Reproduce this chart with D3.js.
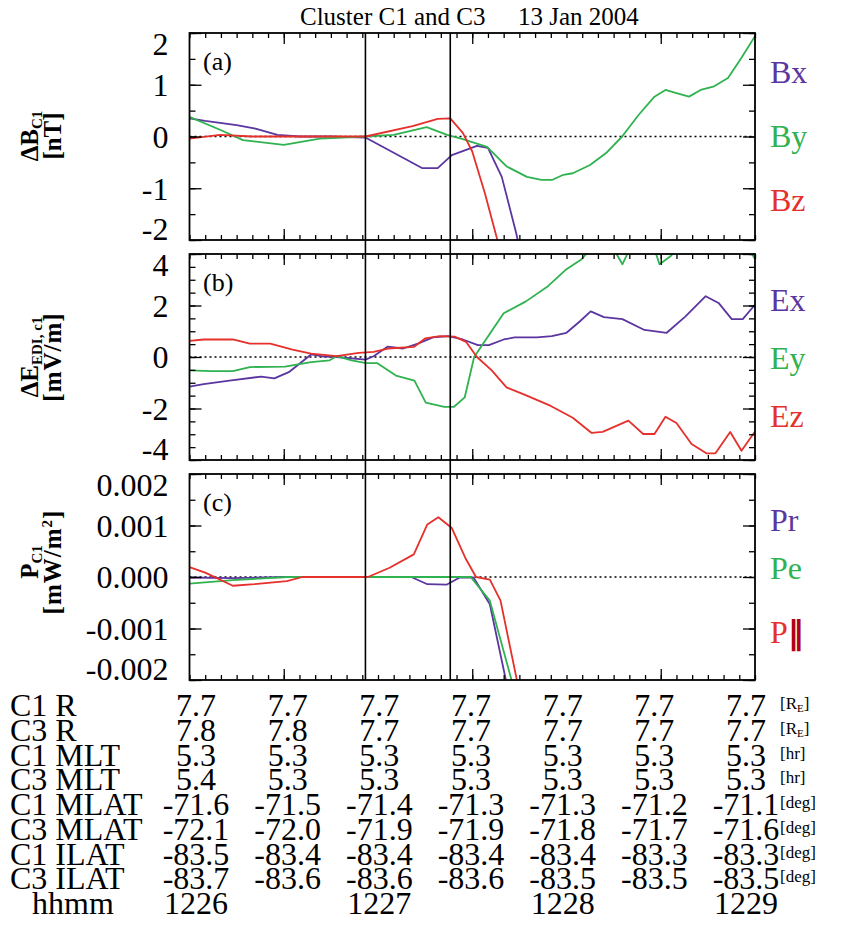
<!DOCTYPE html>
<html>
<head>
<meta charset="utf-8">
<script src="https://cdn.jsdelivr.net/npm/d3@7"></script>
<style>
  body { margin: 0; background: #fff; }
  svg { display: block; font-family: 'Liberation Serif', 'Times New Roman', serif; }
</style>
</head>
<body>
<div id="chart"></div>
<script>
// times are seconds after 12:26:00 UT
const timeDomain = [0, 180];
const markerTimes = [56, 83];
const minorTimeTicks = d3.range(0, 181, 5);
const majorTimeTicks = [30, 90, 150];

// (a) delta B, nT
const bxTime = [0, 5, 15, 21, 28, 35, 45, 56, 74, 79, 83.5, 91.5, 95, 99.4, 104, 105.5];
const bxVal  = [0.35, 0.30, 0.22, 0.15, 0.03, 0.0, 0.0, -0.02, -0.61, -0.61, -0.36, -0.18, -0.22, -0.78, -1.87, -2.3];
const byTime = [0, 9.7, 17, 30, 41.5, 56, 65, 75.5, 82, 87, 94.7, 101, 107.4, 112, 115.4, 119, 122, 127.5, 132.6, 137.7, 143, 148, 151.5, 155, 159, 162.7, 167, 171.4, 175.7, 180];
const byVal  = [0.38, 0.13, -0.07, -0.16, -0.04, 0.0, 0.03, 0.18, 0.03, -0.05, -0.2, -0.58, -0.78, -0.84, -0.84, -0.74, -0.71, -0.55, -0.32, 0.0, 0.42, 0.77, 0.9, 0.84, 0.77, 0.9, 0.97, 1.13, 1.52, 1.94];
const bzTime = [0, 9.7, 20, 40, 56, 71, 79, 83, 87, 90, 94, 98, 99.5];
const bzVal  = [-0.04, 0.03, 0.0, 0.0, 0.0, 0.2, 0.34, 0.35, 0.07, -0.29, -1.09, -2.0, -2.3];

// (b) delta E EDI, mV/m
const exTime = [0, 4.5, 12.7, 22.8, 27, 31.6, 38.7, 42, 46.8, 56, 58.6, 63, 68, 72.7, 77.5, 82.3, 87, 91.8, 95.3, 100, 103.5, 110.6, 115.3, 120, 124.2, 127.7, 131.9, 137.8, 144.8, 151.9, 157.8, 164.3, 168.4, 172.6, 176.1, 180];
const exVal  = [-1.15, -1.05, -0.92, -0.76, -0.83, -0.59, 0.1, 0.03, 0.0, -0.1, 0.03, 0.4, 0.33, 0.52, 0.76, 0.81, 0.68, 0.46, 0.46, 0.68, 0.76, 0.76, 0.81, 0.94, 1.38, 1.77, 1.55, 1.47, 1.05, 0.94, 1.57, 2.36, 2.1, 1.47, 1.47, 2.03];
const eyTime = [0, 6.8, 13.8, 19.2, 30.4, 38.7, 44.6, 46.8, 51.6, 56.2, 59.8, 65.7, 71.6, 75.2, 81.1, 84.1, 87.6, 90.6, 96.4, 100, 107.1, 114.1, 120, 124.8, 127, 131, 135, 137.8, 140.5, 145, 148, 149.6, 153, 156, 165, 175, 178, 180];
const eyVal  = [-0.52, -0.55, -0.55, -0.39, -0.37, -0.2, -0.13, 0.03, -0.13, -0.24, -0.24, -0.72, -0.92, -1.77, -1.94, -1.94, -1.57, 0.0, 1.05, 1.7, 2.16, 2.75, 3.41, 3.8, 4.1, 4.5, 4.2, 3.6, 4.3, 4.6, 4.2, 3.6, 3.9, 4.3, 4.8, 4.6, 4.2, 3.8];
const ezTime = [0, 4.5, 13.8, 19.2, 25.7, 32.8, 38.7, 46.8, 53.9, 58.6, 63.2, 71.4, 75, 79.7, 84.4, 88, 91.5, 96.2, 100.9, 106.8, 115, 122, 128, 131.5, 139.7, 144.4, 148, 151.5, 155, 159.8, 164.5, 167.4, 172.1, 175.7, 180];
const ezVal  = [0.63, 0.68, 0.68, 0.52, 0.52, 0.29, 0.13, 0.03, 0.16, 0.2, 0.33, 0.39, 0.72, 0.81, 0.79, 0.59, 0.0, -0.52, -1.18, -1.47, -1.9, -2.36, -2.95, -2.91, -2.47, -2.99, -2.99, -2.32, -2.56, -3.38, -3.74, -3.74, -2.91, -3.64, -2.89];

// (c) Poynting flux, mW/m^2
const prTime = [0, 13.8, 31, 70.6, 75.7, 81.8, 86, 90.4, 95.6, 100.7, 102];
const prVal  = [-0.00001, -0.00002, 0, 0, -0.00014, -0.00015, -0.00001, -0.00001, -0.00053, -0.002, -0.0025];
const peTime = [0, 13.8, 31, 89.5, 95.6, 102.5, 104];
const peVal  = [-0.00013, -0.00006, 0, 0, -0.00046, -0.002, -0.0025];
const ppTime = [0, 5.2, 13.8, 20.7, 31, 36, 56.8, 63.7, 71.4, 75.7, 79.2, 83.5, 87.8, 91.2, 95.6, 99, 104.2, 105.5];
const ppVal  = [0.00019, 0.00008, -0.00017, -0.00014, -0.00008, 0, 0, 0.00018, 0.00044, 0.00102, 0.00116, 0.00095, 0.00037, 0, -0.00005, -0.00046, -0.002, -0.0025];

// y axes
const aTicks = [-2, -1, 0, 1, 2];
const bTicks = [-4, -2, 0, 2, 4];
const cTicks = [-0.002, -0.001, 0, 0.001, 0.002];

// orbit table
const tableTimes = [0, 30, 60, 90, 120, 150, 180];
const rowNames = ['C1 R', 'C3 R', 'C1 MLT', 'C3 MLT', 'C1 MLAT', 'C3 MLAT', 'C1 ILAT', 'C3 ILAT', 'hhmm'];
const rowUnits = ['RE', 'RE', 'hr', 'hr', 'deg', 'deg', 'deg', 'deg', ''];
const c1R    = ['7.7', '7.7', '7.7', '7.7', '7.7', '7.7', '7.7'];
const c3R    = ['7.8', '7.8', '7.7', '7.7', '7.7', '7.7', '7.7'];
const c1MLT  = ['5.3', '5.3', '5.3', '5.3', '5.3', '5.3', '5.3'];
const c3MLT  = ['5.4', '5.3', '5.3', '5.3', '5.3', '5.3', '5.3'];
const c1MLAT = ['-71.6', '-71.5', '-71.4', '-71.3', '-71.3', '-71.2', '-71.1'];
const c3MLAT = ['-72.1', '-72.0', '-71.9', '-71.9', '-71.8', '-71.7', '-71.6'];
const c1ILAT = ['-83.5', '-83.4', '-83.4', '-83.4', '-83.4', '-83.3', '-83.3'];
const c3ILAT = ['-83.7', '-83.6', '-83.6', '-83.6', '-83.5', '-83.5', '-83.5'];
const hhmm   = ['1226', '', '1227', '', '1228', '', '1229'];

const purple = '#5b35a0', green = '#2fb24f', red = '#e5302b';
const W = 848, H = 938;

const svg = d3.select('#chart').append('svg')
    .attr('width', W)
    .attr('height', H);
svg.append('rect').attr('width', W).attr('height', H).attr('fill', '#fff');

const x = d3.scaleLinear().domain(timeDomain).range([189.5, 755]);

const zip = (ts, vs) => ts.map((t, i) => ({t: t, v: vs[i]}));

const panels = [
    {key: 'a', top: 33, bottom: 240, domain: [-2, 2], ticks: aTicks, minorStep: 0.5,
     fmt: d => String(d),
     series: [{name: 'Bx', color: purple, data: zip(bxTime, bxVal)},
              {name: 'By', color: green, data: zip(byTime, byVal)},
              {name: 'Bz', color: red, data: zip(bzTime, bzVal)}],
     labelY: [72, 136, 200], titleY: 136},
    {key: 'b', top: 254, bottom: 460, domain: [-4, 4], ticks: bTicks, minorStep: 0.5,
     fmt: d => String(d),
     series: [{name: 'Ex', color: purple, data: zip(exTime, exVal)},
              {name: 'Ey', color: green, data: zip(eyTime, eyVal)},
              {name: 'Ez', color: red, data: zip(ezTime, ezVal)}],
     labelY: [300, 358, 416], titleY: 357},
    {key: 'c', top: 474, bottom: 680, domain: [-0.002, 0.002], ticks: cTicks, minorStep: 0.0005,
     fmt: d => d.toFixed(3),
     series: [{name: 'Pr', color: purple, data: zip(prTime, prVal)},
              {name: 'Pe', color: green, data: zip(peTime, peVal)},
              {name: 'P', color: red, data: zip(ppTime, ppVal)}],
     labelY: [520, 568, 632], titleY: 562}
];

function styleAxis(g) {
    g.select('.domain').remove();
    g.selectAll('line').attr('stroke', '#000').attr('stroke-width', 1.3);
    g.attr('font-family', null).attr('font-size', null);
}

function drawPanel(p) {
    const y = d3.scaleLinear().domain(p.domain).range([p.bottom, p.top]);
    const g = svg.append('g').attr('class', 'panel-' + p.key);
    const minor = d3.range(p.domain[0], p.domain[1] + p.minorStep / 2, p.minorStep);

    g.append('clipPath').attr('id', 'clip-' + p.key)
        .append('rect')
        .attr('x', x.range()[0]).attr('y', p.top)
        .attr('width', x.range()[1] - x.range()[0]).attr('height', p.bottom - p.top);

    // zero reference
    g.append('line')
        .attr('x1', x.range()[0]).attr('x2', x.range()[1])
        .attr('y1', y(0)).attr('y2', y(0))
        .attr('stroke', '#000').attr('stroke-width', 1.6)
        .attr('stroke-dasharray', '2,3');

    const line = d3.line().x(d => x(d.t)).y(d => y(d.v));
    g.append('g').attr('clip-path', `url(#clip-${p.key})`)
        .selectAll('path')
        .data(p.series)
        .join('path')
        .attr('d', s => line(s.data))
        .attr('fill', 'none')
        .attr('stroke', s => s.color)
        .attr('stroke-width', 1.8)
        .attr('stroke-linejoin', 'round');

    // inward ticks on all four sides
    const bot = `translate(0,${p.bottom})`, top = `translate(0,${p.top})`;
    g.append('g').attr('transform', bot)
        .call(d3.axisBottom(x).tickValues(minorTimeTicks).tickSize(-5).tickFormat('')).call(styleAxis);
    g.append('g').attr('transform', bot)
        .call(d3.axisBottom(x).tickValues(majorTimeTicks).tickSize(-11).tickFormat('')).call(styleAxis);
    g.append('g').attr('transform', top)
        .call(d3.axisTop(x).tickValues(minorTimeTicks).tickSize(-5).tickFormat('')).call(styleAxis);
    g.append('g').attr('transform', top)
        .call(d3.axisTop(x).tickValues(majorTimeTicks).tickSize(-11).tickFormat('')).call(styleAxis);

    const left = `translate(${x.range()[0]},0)`, right = `translate(${x.range()[1]},0)`;
    g.append('g').attr('transform', left)
        .call(d3.axisLeft(y).tickValues(minor).tickSize(-6).tickFormat('')).call(styleAxis);
    g.append('g').attr('transform', left)
        .call(d3.axisLeft(y).tickValues(p.ticks).tickSize(-12).tickPadding(21).tickFormat(p.fmt))
        .call(styleAxis)
        .call(a => a.selectAll('text')
            .attr('font-size', 32)
            .attr('fill', '#000')
            // end labels sit inside the frame, as in the original plot
            .attr('dy', (d, i, n) => i === 0 ? '-0.02em' : i === n.length - 1 ? '0.68em' : '0.34em'));
    g.append('g').attr('transform', right)
        .call(d3.axisRight(y).tickValues(minor).tickSize(-6).tickFormat('')).call(styleAxis);
    g.append('g').attr('transform', right)
        .call(d3.axisRight(y).tickValues(p.ticks).tickSize(-12).tickFormat('')).call(styleAxis);

    g.append('rect')
        .attr('x', x.range()[0]).attr('y', p.top)
        .attr('width', x.range()[1] - x.range()[0]).attr('height', p.bottom - p.top)
        .attr('fill', 'none').attr('stroke', '#000').attr('stroke-width', 1.8);

    g.append('text')
        .attr('x', 203).attr('y', p.top + 37)
        .attr('font-size', 26)
        .text(`(${p.key})`);

    // series names on the right
    const names = g.selectAll('text.name')
        .data(p.series)
        .join('text')
        .attr('class', 'name')
        .attr('x', 770)
        .attr('y', (s, i) => p.labelY[i])
        .attr('dy', '0.35em')
        .attr('font-size', 32)
        .attr('fill', s => s.color)
        .text(s => s.name);
    if (p.key === 'c') {
        names.filter((s, i) => i === 2).append('tspan')
            .attr('fill', '#b00018').attr('font-family', 'DejaVu Sans').attr('font-weight', 'bold')
            .text('\u2016');
    }
    return y;
}

panels.forEach(drawPanel);

// event markers crossing all panels
svg.selectAll('line.marker')
    .data(markerTimes)
    .join('line')
    .attr('class', 'marker')
    .attr('x1', d => x(d)).attr('x2', d => x(d))
    .attr('y1', panels[0].top).attr('y2', panels[2].bottom)
    .attr('stroke', '#000').attr('stroke-width', 1.6);

// title
svg.append('text').attr('x', 300).attr('y', 25).attr('font-size', 25).text('Cluster C1 and C3');
svg.append('text').attr('x', 518).attr('y', 25).attr('font-size', 25).text('13 Jan 2004');

// y-axis titles
function yTitle(cy, build) {
    const g = svg.append('g')
        .attr('transform', `translate(0,${cy})`)
        .attr('font-size', 25).attr('font-weight', 'bold');
    build(g);
}
function titleLine(g, xPos) {
    return g.append('text').attr('transform', `translate(${xPos},0) rotate(-90)`).attr('text-anchor', 'middle');
}
yTitle(panels[0].titleY, g => {
    const t1 = titleLine(g, 38);
    t1.append('tspan').text('\u0394B');
    t1.append('tspan').attr('font-size', 15).attr('dy', 4).text('C1');
    titleLine(g, 61).text('[nT]');
});
yTitle(panels[1].titleY, g => {
    const t1 = titleLine(g, 38);
    t1.append('tspan').text('\u0394E');
    t1.append('tspan').attr('font-size', 15).attr('dy', 4).text('EDI, c1');
    titleLine(g, 61).attr('letter-spacing', 1).text('[mV/m]');
});
yTitle(panels[2].titleY, g => {
    const t1 = titleLine(g, 38);
    t1.append('tspan').text('P');
    t1.append('tspan').attr('font-size', 15).attr('dy', 4).text('C1');
    const t2 = titleLine(g, 61).attr('letter-spacing', 1);
    t2.append('tspan').text('[mW/m');
    t2.append('tspan').attr('font-size', 15).attr('dy', -9).text('2');
    t2.append('tspan').attr('dy', 9).text(']');
});

// orbit table
const rows = [c1R, c3R, c1MLT, c3MLT, c1MLAT, c3MLAT, c1ILAT, c3ILAT, hhmm];
const colX = d3.scaleLinear().domain(timeDomain).range([196, 746]);
const rowY = d3.scalePoint().domain(d3.range(rows.length)).range([716, 914]);
const table = svg.append('g').attr('font-size', 32);

table.selectAll('text.rowname')
    .data(rowNames)
    .join('text')
    .attr('class', 'rowname')
    .attr('x', d => d === 'hhmm' ? 32 : 10)
    .attr('y', (d, i) => rowY(i))
    .text(d => d);

rows.forEach((vals, i) => {
    table.selectAll(null)
        .data(vals)
        .join('text')
        .attr('x', (d, j) => colX(tableTimes[j]))
        .attr('y', rowY(i))
        .attr('text-anchor', 'middle')
        .text(d => d);
});

const units = table.selectAll('text.unit')
    .data(rowUnits)
    .join('text')
    .attr('class', 'unit')
    .attr('x', 780)
    .attr('y', (d, i) => rowY(i) - 7)
    .attr('font-size', 17);
units.filter(d => d === 'RE').each(function () {
    const t = d3.select(this);
    t.append('tspan').text('[R');
    t.append('tspan').attr('font-size', 11).attr('dy', 3).text('E');
    t.append('tspan').attr('dy', -3).text(']');
});
units.filter(d => d !== 'RE' && d !== '').text(d => `[${d}]`);
</script>
</body>
</html>
